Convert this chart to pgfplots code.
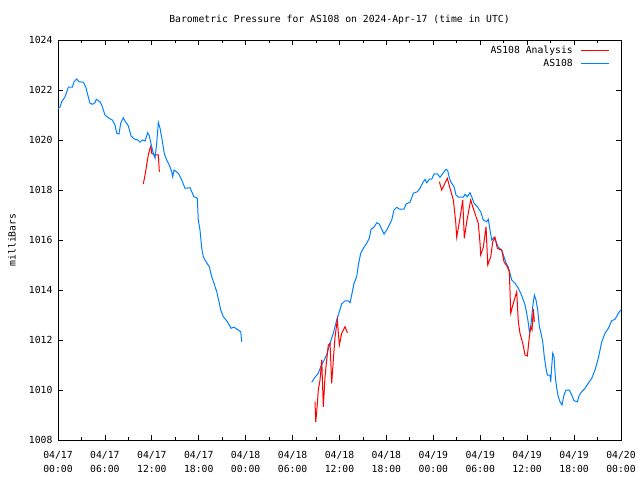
\documentclass[border=0pt]{standalone}
\usepackage{fontspec}
\setmainfont{DejaVu Sans Mono}
\setmonofont{DejaVu Sans Mono}
\usepackage{pgfplots}
\pgfplotsset{compat=1.18}
\definecolor{gblue}{RGB}{0,128,255}
\definecolor{gred}{RGB}{255,0,0}
\begin{document}
\begin{tikzpicture}[font=\fontsize{9.75}{12}\selectfont]
\path[use as bounding box] (0,0) rectangle (640pt,480pt);
\begin{axis}[
  at={(58pt,40pt)}, anchor=south west,
  scale only axis, width=563pt, height=400pt,
  xmin=0, xmax=72, ymin=1008, ymax=1024,
  xtick={0,6,...,72}, minor x tick num=1,
  ytick={1008,1010,...,1024},
  xticklabels={{04/17\\00:00},{04/17\\06:00},{04/17\\12:00},{04/17\\18:00},{04/18\\00:00},{04/18\\06:00},{04/18\\12:00},{04/18\\18:00},{04/19\\00:00},{04/19\\06:00},{04/19\\12:00},{04/19\\18:00},{04/20\\00:00}},
  xticklabel style={align=center, yshift=-8pt, font=\fontsize{9.75}{14}\selectfont},
  yticklabel style={xshift=-2pt},
  /pgf/number format/assume math mode=true,
  /pgf/number format/set thousands separator={},
  tick align=inside,
  major tick length=5pt, minor tick length=3pt,
  axis line style={line width=0.8pt},
  every tick/.style={line width=0.8pt, black},
  title={Barometric Pressure for AS108 on 2024-Apr-17 (time in UTC)},
  title style={at={(0.5,1)}, anchor=base, yshift=11pt},
  ylabel={milliBars},
  ylabel style={at={(axis description cs:-0.0817,0.5)}, anchor=center},
  legend plot pos=right,
  legend cell align=right,
  legend style={at={(1,1)}, anchor=north east, xshift=-11pt, yshift=-4pt, draw=none, fill=none, inner sep=0pt, row sep=0pt},
  legend image code/.code={\path (0pt,0pt); \draw[#1] (6pt,0pt) -- (34pt,0pt);},
]
% red analysis segment 1
\addplot[gred, line width=1pt] coordinates {
(10.91,1018.24)(11.13,1018.60)(11.34,1019.00)(11.55,1019.40)(11.77,1019.67)(11.89,1019.76)(11.98,1019.47)(12.19,1019.43)(12.41,1019.40)(12.83,1019.40)(12.96,1018.73)
};
\addlegendentry{AS108 Analysis}
% blue segment 1
\addplot[gblue, line width=1pt] coordinates {
(0,1021.25)(0.26,1021.32)(0.47,1021.53)(0.90,1021.73)(1.32,1022.11)(1.83,1022.11)(2.05,1022.33)(2.39,1022.44)(2.69,1022.33)(3.24,1022.31)(3.54,1022.13)(3.75,1021.87)(4.09,1021.47)(4.39,1021.43)(4.73,1021.49)(4.90,1021.63)(5.37,1021.53)(5.59,1021.40)(6.01,1021.00)(6.43,1020.89)(6.94,1020.80)(7.29,1020.60)(7.51,1020.27)(7.80,1020.24)(8.02,1020.67)(8.35,1020.89)(8.66,1020.71)(8.99,1020.57)(9.34,1020.16)(9.76,1020.04)(10.19,1020.00)(10.49,1019.91)(10.78,1020.00)(11.13,1019.96)(11.47,1020.29)(11.68,1020.17)(11.98,1019.73)(12.19,1019.47)(12.41,1019.27)(12.62,1019.87)(12.83,1020.71)(13.05,1020.47)(13.34,1019.96)(13.60,1019.45)(13.90,1019.20)(14.23,1019.00)(14.54,1018.73)(14.67,1018.53)(14.84,1018.80)(15.39,1018.67)(15.82,1018.40)(16.24,1018.07)(16.88,1018.09)(17.39,1017.73)(17.82,1017.67)(17.94,1016.80)(18.16,1016.40)(18.38,1015.67)(18.58,1015.33)(18.93,1015.13)(19.35,1014.93)(19.66,1014.53)(19.95,1014.27)(20.30,1013.93)(20.59,1013.53)(20.81,1013.20)(21.14,1012.93)(21.49,1012.80)(21.78,1012.67)(22.13,1012.47)(22.51,1012.51)(23.06,1012.40)(23.37,1012.33)(23.49,1011.93)
};
\addlegendentry{AS108}
% blue segment 2
\addplot[gblue, line width=1pt, forget plot] coordinates {
(32.45,1010.31)(32.87,1010.51)(33.29,1010.67)(33.60,1010.93)(33.93,1011.13)(34.36,1011.40)(34.79,1011.87)(35.21,1012.27)(35.64,1012.80)(35.98,1013.13)(36.28,1013.44)(36.71,1013.57)(37.13,1013.57)(37.35,1013.49)(37.56,1013.80)(37.86,1014.27)(38.20,1014.53)(38.41,1015.00)(38.71,1015.47)(39.05,1015.67)(39.48,1015.87)(39.81,1016.07)(40.03,1016.43)(40.41,1016.51)(40.76,1016.69)(41.09,1016.64)(41.40,1016.43)(41.69,1016.24)(42.04,1016.40)(42.37,1016.60)(42.68,1016.80)(42.97,1017.20)(43.32,1017.31)(43.65,1017.23)(44.25,1017.23)(44.51,1017.44)(45.02,1017.51)(45.44,1017.87)(45.95,1017.93)(46.30,1018.07)(46.64,1018.29)(46.94,1018.43)(47.15,1018.29)(47.49,1018.43)(47.79,1018.43)(48.09,1018.64)(48.51,1018.64)(48.86,1018.51)(49.28,1018.69)(49.62,1018.83)(49.84,1018.77)(50.01,1018.53)(50.22,1018.33)(50.65,1018.13)(50.90,1017.80)(51.20,1017.71)(51.84,1017.71)(52.05,1017.83)(52.35,1017.73)(52.69,1017.89)(52.91,1017.73)(53.20,1017.47)(53.63,1017.33)(54.06,1017.13)(54.39,1016.80)(54.83,1016.73)(55.03,1016.83)(55.25,1016.40)(55.47,1016.00)(55.76,1016.11)(56.02,1015.93)(56.31,1015.71)(56.75,1015.60)(56.95,1015.40)(57.30,1015.09)(57.59,1014.91)(58.03,1014.40)(58.45,1014.27)(58.87,1014.07)(59.18,1013.87)(59.51,1013.60)(59.73,1013.40)(59.94,1013.07)(60.15,1012.67)(60.28,1012.33)(60.46,1012.53)(60.71,1013.33)(60.92,1013.80)(61.13,1013.60)(61.35,1013.20)(61.56,1012.53)(61.77,1012.27)(61.99,1011.93)(62.19,1011.33)(62.41,1010.87)(62.58,1010.60)(62.92,1010.60)(63.01,1010.33)(63.14,1010.93)(63.27,1011.47)(63.43,1011.33)(63.60,1010.53)(63.78,1010.07)(63.98,1009.73)(64.20,1009.53)(64.46,1009.40)(64.71,1009.80)(64.97,1010.00)(65.39,1010.00)(65.70,1009.80)(65.99,1009.57)(66.42,1009.53)(66.67,1009.80)(66.98,1009.93)(67.40,1010.07)(67.82,1010.27)(68.26,1010.47)(68.68,1010.80)(69.10,1011.27)(69.54,1011.93)(69.96,1012.27)(70.38,1012.47)(70.81,1012.77)(71.24,1012.83)(71.66,1013.07)(71.97,1013.20)
};
% red segment 2
\addplot[gred, line width=1pt, forget plot] coordinates {
(32.87,1009.53)(32.96,1008.73)(33.09,1009.13)(33.29,1010.00)(33.51,1010.40)(33.73,1011.20)(33.93,1009.33)(34.15,1010.53)(34.36,1011.20)(34.57,1011.80)(34.79,1011.87)(35.00,1010.27)(35.21,1011.20)(35.43,1012.13)(35.72,1012.80)(35.98,1011.80)(36.28,1012.27)(36.71,1012.53)(37.00,1012.29)
};
% red segment 3
\addplot[gred, line width=1pt, forget plot] coordinates {
(48.77,1018.33)(49.07,1018.00)(49.79,1018.47)(50.13,1018.07)(50.56,1017.60)(50.86,1016.73)(50.99,1016.11)(51.41,1016.87)(51.76,1017.60)(51.96,1016.07)(52.27,1016.73)(52.47,1017.07)(52.78,1017.60)(53.04,1017.33)(53.46,1016.93)(53.75,1016.67)(53.97,1015.87)(54.06,1015.40)(54.39,1015.71)(54.74,1016.53)(54.96,1015.00)(55.34,1015.33)(55.60,1015.93)(55.89,1016.11)(56.18,1015.67)(56.44,1015.63)(56.75,1015.60)(57.04,1015.13)(57.46,1014.93)(57.72,1014.73)(57.90,1013.07)(58.23,1013.47)(58.66,1013.93)(58.87,1012.73)(59.08,1012.27)(59.43,1011.87)(59.73,1011.40)(60.02,1011.36)(60.28,1012.13)(60.46,1012.53)(60.62,1012.40)(60.79,1013.23)(60.92,1012.73)
};
\end{axis}
\end{tikzpicture}
\end{document}
